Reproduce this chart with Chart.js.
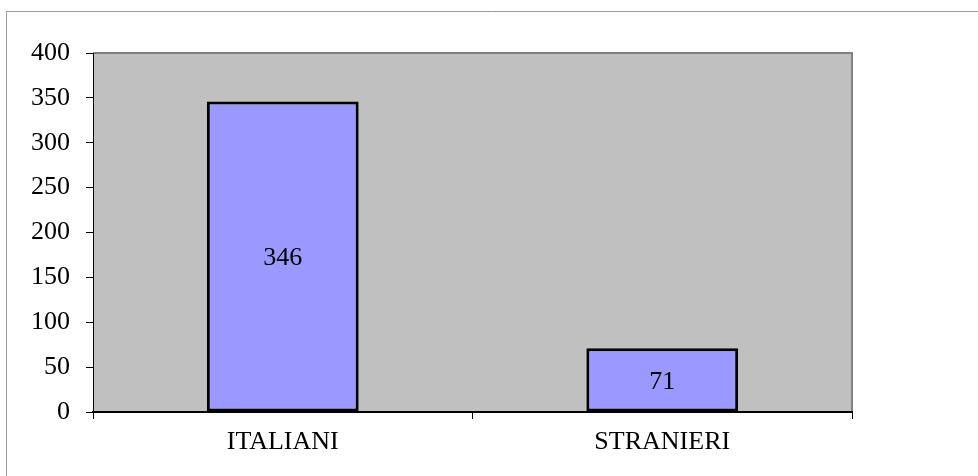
<!DOCTYPE html>
<html>
<head>
<meta charset="utf-8">
<script src="https://cdn.jsdelivr.net/npm/chart.js@4/dist/chart.umd.min.js"></script>
<style>
    html, body { margin: 0; padding: 0; background: #ffffff; }
    #wrap { width: 978px; height: 476px; position: relative; }
</style>
</head>
<body>
<div id="wrap"><canvas id="barChart"></canvas></div>
<script>
const categories = ["ITALIANI", "STRANIERI"];
const values = [346, 71];
const yTicks = [0, 50, 100, 150, 200, 250, 300, 350, 400];

const font = { family: "'Liberation Serif', 'Times New Roman', serif", size: 26 };

// gray plot area, gray top/right edge and the outer frame
const backdrop = {
    id: "backdrop",
    beforeDraw(chart) {
        const c = chart.ctx;
        const a = chart.chartArea;
        c.save();
        c.strokeStyle = "#9a9a9a";
        c.lineWidth = 1;
        c.beginPath();
        c.moveTo(6.5, chart.height);
        c.lineTo(6.5, 11.5);
        c.lineTo(chart.width, 11.5);
        c.stroke();
        c.fillStyle = "#c0c0c0";
        c.fillRect(a.left, a.top, a.right - a.left, a.bottom - a.top);
        c.strokeStyle = "#808080";
        c.lineWidth = 2;
        c.beginPath();
        c.moveTo(a.left, a.top);
        c.lineTo(a.right, a.top);
        c.lineTo(a.right, a.bottom);
        c.stroke();
        c.restore();
    }
};

// value written in the middle of each bar
const barValues = {
    id: "barValues",
    afterDatasetsDraw(chart) {
        const c = chart.ctx;
        c.save();
        c.font = font.size + "px " + font.family;
        c.fillStyle = "#000000";
        c.textAlign = "center";
        c.textBaseline = "middle";
        chart.getDatasetMeta(0).data.forEach((bar, i) => {
            const p = bar.getCenterPoint();
            c.fillText(values[i], p.x, p.y + 2);
        });
        c.restore();
    }
};

new Chart(document.getElementById("barChart"), {
    type: "bar",
    data: {
        labels: categories,
        datasets: [{
            data: values,
            backgroundColor: "#9999ff",
            borderColor: "#000000",
            borderWidth: 3,
            borderSkipped: false,
            barPercentage: 0.4,
            categoryPercentage: 1
        }]
    },
    options: {
        responsive: true,
        maintainAspectRatio: false,
        animation: false,
        layout: { padding: { left: 0, top: 53, right: 126, bottom: 0 } },
        plugins: { legend: { display: false }, tooltip: { enabled: false } },
        scales: {
            x: {
                offset: true,
                afterFit: s => { s.height = 64; },
                grid: { offset: true, drawOnChartArea: false, drawTicks: true, tickLength: 7, color: "#000000" },
                border: { color: "#000000", width: 2 },
                ticks: { color: "#000000", font: font, padding: 8 }
            },
            y: {
                min: 0,
                max: 400,
                afterFit: s => { s.width = 93; },
                afterBuildTicks: s => { s.ticks = yTicks.map(v => ({ value: v })); },
                grid: { drawOnChartArea: false, drawTicks: true, tickLength: 7, color: "#000000" },
                border: { color: "#000000", width: 1 },
                ticks: { color: "#000000", font: font, padding: 16 }
            }
        }
    },
    plugins: [backdrop, barValues]
});
</script>
</body>
</html>
